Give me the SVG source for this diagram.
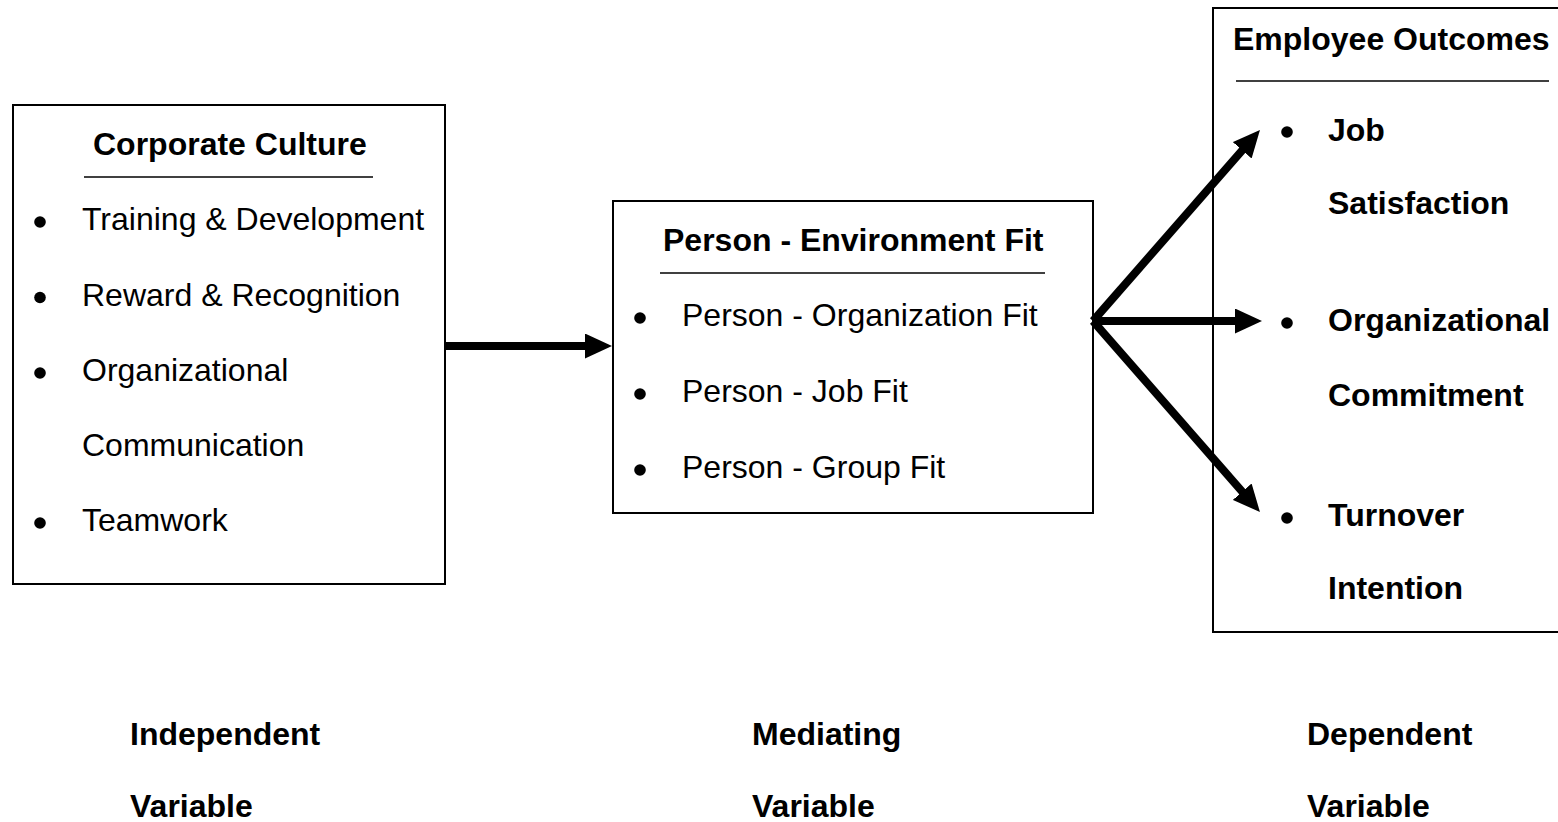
<svg xmlns="http://www.w3.org/2000/svg" width="1558" height="822" viewBox="0 0 1558 822">
<defs>
<style>
.box{fill:#fff;stroke:#000;stroke-width:2}
.rule{stroke:#000;stroke-width:1.6}
.t{font-family:"Liberation Sans",Arial,sans-serif;font-size:32px;fill:#000}
.b{font-weight:bold}
.dot{fill:#000}
.conn{stroke:#000;stroke-width:8;fill:none;marker-end:url(#ah)}
</style>
<marker id="ah" markerUnits="userSpaceOnUse" markerWidth="27" markerHeight="25" refX="2" refY="12.5" orient="auto" viewBox="0 0 27 25">
<path d="M0,0 L27,12.5 L0,25 z" fill="#000"/>
</marker>
</defs>
<rect width="1558" height="822" fill="#fff"/>

<g id="corporate-culture">
<rect class="box" x="13" y="105" width="432" height="479"/>
<text class="t b" x="93" y="155">Corporate Culture</text>
<line class="rule" x1="84" y1="177" x2="373" y2="177"/>
<circle class="dot" cx="40" cy="222" r="5.8"/>
<text class="t" x="82" y="230">Training &amp; Development</text>
<circle class="dot" cx="40" cy="297.5" r="5.8"/>
<text class="t" x="82" y="305.5">Reward &amp; Recognition</text>
<circle class="dot" cx="40" cy="373" r="5.8"/>
<text class="t" x="82" y="381">Organizational</text>
<text class="t" x="82" y="456">Communication</text>
<circle class="dot" cx="40" cy="523" r="5.8"/>
<text class="t" x="82" y="531">Teamwork</text>
</g>

<g id="person-environment-fit">
<rect class="box" x="613" y="201" width="480" height="312"/>
<text class="t b" x="663" y="251">Person - Environment Fit</text>
<line class="rule" x1="660" y1="273" x2="1045" y2="273"/>
<circle class="dot" cx="640" cy="318" r="5.8"/>
<text class="t" x="682" y="326">Person - Organization Fit</text>
<circle class="dot" cx="640" cy="394" r="5.8"/>
<text class="t" x="682" y="402">Person - Job Fit</text>
<circle class="dot" cx="640" cy="470" r="5.8"/>
<text class="t" x="682" y="478">Person - Group Fit</text>
</g>

<g id="employee-outcomes">
<rect class="box" x="1213" y="8" width="360" height="624"/>
<text class="t b" x="1233" y="50">Employee Outcomes</text>
<line class="rule" x1="1236" y1="81" x2="1549" y2="81"/>
<circle class="dot" cx="1287" cy="132" r="5.8"/>
<text class="t b" x="1328" y="141">Job</text>
<text class="t b" x="1328" y="214">Satisfaction</text>
<circle class="dot" cx="1287" cy="323" r="5.8"/>
<text class="t b" x="1328" y="331">Organizational</text>
<text class="t b" x="1328" y="406">Commitment</text>
<circle class="dot" cx="1287" cy="518" r="5.8"/>
<text class="t b" x="1328" y="526">Turnover</text>
<text class="t b" x="1328" y="599">Intention</text>
</g>

<g id="labels">
<text class="t b" x="130" y="745">Independent</text>
<text class="t b" x="130" y="817">Variable</text>
<text class="t b" x="752" y="745">Mediating</text>
<text class="t b" x="752" y="817">Variable</text>
<text class="t b" x="1307" y="745">Dependent</text>
<text class="t b" x="1307" y="817">Variable</text>
</g>

<g id="connectors">
<line class="conn" x1="445" y1="346" x2="587" y2="346"/>
<line class="conn" x1="1093" y1="321" x2="1243.5" y2="148.8"/>
<line class="conn" x1="1093" y1="321" x2="1237" y2="321"/>
<line class="conn" x1="1093" y1="321" x2="1243.5" y2="493.2"/>
</g>
</svg>
